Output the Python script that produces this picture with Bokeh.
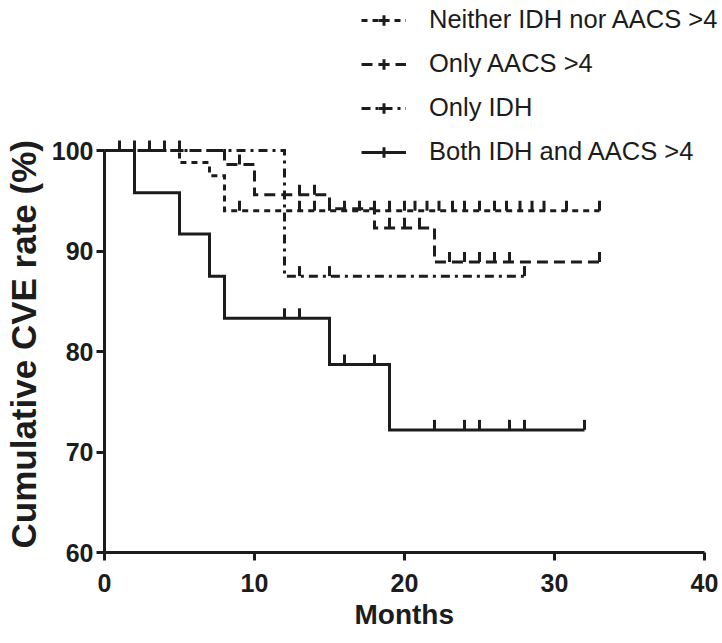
import numpy as np
from bokeh.plotting import figure
from bokeh.models import Legend, LegendItem, FixedTicker, Range1d, Title
from bokeh.embed import file_html
from bokeh.resources import INLINE

# ---------------- data ----------------
groups = ["Neither IDH nor AACS >4", "Only AACS >4", "Only IDH", "Both IDH and AACS >4"]

neither_events = [5, 7, 8]
neither_surv = [98.8, 97.5, 94.0]
neither_end = 33
neither_censor = [4, 9, 13, 14, 15, 16, 17, 18, 19, 20, 20.7, 21.5, 22.3, 23.2, 24, 25, 26, 26.8, 27.7, 28.5, 29.3, 30.8, 33]

aacs_events = [8, 10, 15, 18, 22]
aacs_surv = [98.6, 95.6, 94.2, 92.3, 88.9]
aacs_end = 33
aacs_censor = [5, 9, 13, 14, 19, 20, 21, 23, 24, 25, 26, 27, 33]

idh_events = [12]
idh_surv = [87.5]
idh_end = 28
idh_censor = [2, 3, 13, 15, 28]

both_events = [2, 5, 7, 8, 15, 19]
both_surv = [95.8, 91.7, 87.5, 83.3, 78.7, 72.2]
both_end = 32
both_censor = [1, 12, 13, 16, 18, 22, 24, 25, 27, 28, 32]

x_ticks = [0, 10, 20, 30, 40]
y_ticks = [60, 70, 80, 90, 100]
x_axis_span = (0, 40)
y_axis_span = (60, 100)

# ---------------- layout ----------------
LEFT = 97            # frame left (px)
FW = 617             # frame width  -> reaches right edge of canvas
FH = 552             # frame height -> from top of canvas down to the x axis
PX_X = 600           # pixels spanned by the x axis span
PX_Y = 402           # pixels spanned by the y axis span

x_end = x_axis_span[0] + (x_axis_span[1] - x_axis_span[0]) * FW / PX_X
y_end = y_axis_span[0] + (y_axis_span[1] - y_axis_span[0]) * FH / PX_Y

p = figure(frame_width=FW, frame_height=FH, output_backend="svg", toolbar_location=None,
           x_range=Range1d(x_axis_span[0], x_end), y_range=Range1d(y_axis_span[0], y_end),
           min_border_left=LEFT, min_border_right=0,
           min_border_top=0, min_border_bottom=75)
p.outline_line_color = None
p.grid.visible = False
p.background_fill_color = "white"
p.border_fill_color = "white"

INK = "#1c1c1c"
LW = 3


def km_xy(events, surv, end):
    xs = [0] + list(events) + [end]
    ys = [100] + list(surv) + [surv[-1]]
    return xs, ys


def levels_at(times, events, surv):
    ev = np.asarray(events, dtype=float)
    sv = np.concatenate([[100.0], np.asarray(surv, dtype=float)])
    idx = np.searchsorted(ev, np.asarray(times, dtype=float), side="right")
    return sv[idx]


specs = [
    (neither_events, neither_surv, neither_end, neither_censor, "6 5"),
    (aacs_events, aacs_surv, aacs_end, aacs_censor, "11 6"),
    (idh_events, idh_surv, idh_end, idh_censor, "9 5 3 5"),
    (both_events, both_surv, both_end, both_censor, "solid"),
]

items = []
for name, (ev, sv, end, cen, dash) in zip(groups, specs):
    xs, ys = km_xy(ev, sv, end)
    r_line = p.step(xs, ys, mode="after", line_color=INK, line_width=LW,
                    line_dash=dash, line_join="miter")
    lv = levels_at(cen, ev, sv)
    # censor marks: short vertical ticks rising from the curve
    p.scatter(x=cen, y=lv + 0.5, marker="dash", angle=np.pi / 2,
              size=10, line_color=INK, line_width=LW)
    # legend-only glyph showing a censor tick on the line sample
    r_key = p.scatter(x=cen, y=lv, marker="cross", size=10,
                      line_color=INK, line_width=LW, visible=False)
    items.append(LegendItem(label=name, renderers=[r_line, r_key]))

legend = Legend(items=items, location=(257, 386), orientation="vertical",
                glyph_width=45, glyph_height=26, label_standoff=23, spacing=15,
                padding=0, margin=0, border_line_color=None,
                background_fill_alpha=0, inactive_fill_alpha=0,
                label_text_font="Liberation Sans", label_text_font_size="25.5px",
                label_text_color=INK)
p.add_layout(legend, "center")

# axes
for ax in (p.xaxis[0], p.yaxis[0]):
    ax.axis_line_width = LW
    ax.axis_line_color = INK
    ax.major_tick_line_width = LW
    ax.major_tick_line_color = INK
    ax.major_tick_out = 8
    ax.major_tick_in = 0
    ax.minor_tick_line_color = None
    ax.major_label_text_font = "Liberation Sans"
    ax.major_label_text_font_style = "bold"
    ax.major_label_text_font_size = "25px"
    ax.major_label_text_color = INK

p.xaxis[0].ticker = FixedTicker(ticks=x_ticks)
p.yaxis[0].ticker = FixedTicker(ticks=y_ticks)
p.xaxis[0].bounds = x_axis_span
p.yaxis[0].bounds = y_axis_span
p.xaxis[0].major_label_standoff = 13
p.yaxis[0].major_label_standoff = 3

ylab = Title(text="Cumulative CVE rate (%)", align="left", offset=4, standoff=7,
             vertical_align="top", text_font="Liberation Sans", text_font_style="bold",
             text_font_size="35px", text_color=INK)
p.add_layout(ylab, "left")

xlab = Title(text="Months", align="left", offset=250, standoff=5,
             vertical_align="bottom", text_font="Liberation Sans", text_font_style="bold",
             text_font_size="28px", text_color=INK)
p.add_layout(xlab, "below")

open("out.html", "w").write(file_html(p, INLINE))
